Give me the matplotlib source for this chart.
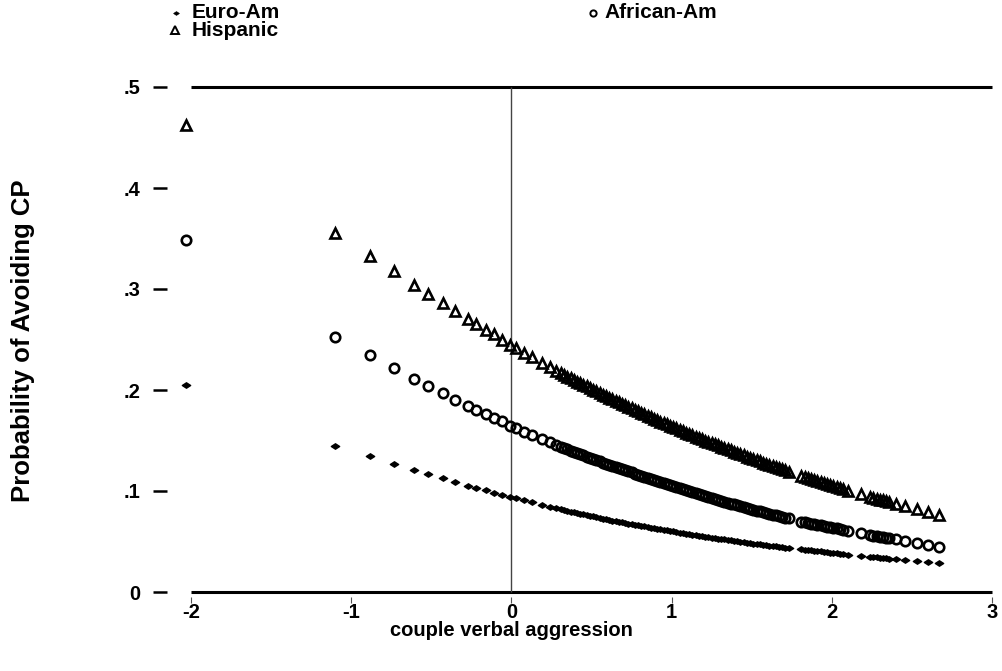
import matplotlib
matplotlib.use("Agg")
import matplotlib.pyplot as plt
from matplotlib.path import Path
from matplotlib.lines import Line2D

# ---------------- data ----------------
x_sparse = [-2.03, -1.10, -0.88, -0.73, -0.61, -0.52, -0.43, -0.35, -0.27, -0.22,
            -0.16, -0.11, -0.06, -0.01, 0.03, 0.08, 0.13, 0.19, 0.24, 0.28]
x_dense = [0.31, 0.33, 0.35, 0.37, 0.39, 0.41, 0.43, 0.45, 0.47, 0.49,
           0.51, 0.53, 0.55, 0.57, 0.59, 0.61, 0.63, 0.65, 0.67, 0.69,
           0.71, 0.73, 0.75, 0.77, 0.79, 0.81, 0.83, 0.85, 0.87, 0.89,
           0.91, 0.93, 0.95, 0.97, 0.99, 1.01, 1.03, 1.05, 1.07, 1.09,
           1.11, 1.13, 1.15, 1.17, 1.19, 1.21, 1.23, 1.25, 1.27, 1.29,
           1.31, 1.33, 1.35, 1.37, 1.39, 1.41, 1.43, 1.45, 1.47, 1.49,
           1.51, 1.53, 1.55, 1.57, 1.59, 1.61, 1.63, 1.65, 1.67, 1.69,
           1.71, 1.73]
x_right = [1.81, 1.83, 1.85, 1.87, 1.89, 1.91, 1.93, 1.95, 1.97, 1.99,
           2.01, 2.03, 2.05, 2.07, 2.10, 2.18, 2.24, 2.26, 2.28, 2.30,
           2.32, 2.34, 2.36, 2.40, 2.46, 2.53, 2.60, 2.67]
verbal_aggression = x_sparse + x_dense + x_right

hispanic = [
    # sparse
    0.462, 0.355, 0.333, 0.318, 0.304, 0.295, 0.286, 0.278, 0.270, 0.265,
    0.259, 0.255, 0.250, 0.2449, 0.2413, 0.2369, 0.2324, 0.2271, 0.2227, 0.2191,
    # dense
    0.2166, 0.2150, 0.2133, 0.2117, 0.2101, 0.2084, 0.2068, 0.2052, 0.2035, 0.2019,
    0.2003, 0.1986, 0.1970, 0.1954, 0.1937, 0.1922, 0.1907, 0.1892, 0.1877, 0.1862,
    0.1847, 0.1833, 0.1818, 0.1803, 0.1789, 0.1774, 0.1759, 0.1744, 0.1729, 0.1714,
    0.1700, 0.1687, 0.1673, 0.1660, 0.1646, 0.1633, 0.1619, 0.1606, 0.1593, 0.1579,
    0.1566, 0.1552, 0.1539, 0.1525, 0.1512, 0.1499, 0.1487, 0.1475, 0.1463, 0.1451,
    0.1438, 0.1426, 0.1414, 0.1402, 0.1390, 0.1378, 0.1366, 0.1353, 0.1341, 0.1329,
    0.1317, 0.1305, 0.1294, 0.1282, 0.1271, 0.1260, 0.1248, 0.1237, 0.1226, 0.1214,
    0.1203, 0.1192,
    # right
    0.1145, 0.1135, 0.1125, 0.1115, 0.1105, 0.1095, 0.1085, 0.1075, 0.1066, 0.1056,
    0.1046, 0.1037, 0.1027, 0.1018, 0.1004, 0.0968, 0.0941, 0.0932, 0.0924, 0.0915,
    0.0906, 0.0898, 0.0889, 0.0872, 0.0848, 0.0820, 0.0793, 0.0766]

african = [
    # sparse
    0.349, 0.252, 0.235, 0.222, 0.211, 0.204, 0.197, 0.190, 0.184, 0.180,
    0.176, 0.172, 0.169, 0.1648, 0.1621, 0.1588, 0.1555, 0.1515, 0.1482, 0.1455,
    # dense
    0.1436, 0.1424, 0.1412, 0.1400, 0.1388, 0.1376, 0.1364, 0.1353, 0.1341, 0.1329,
    0.1317, 0.1305, 0.1293, 0.1281, 0.1269, 0.1258, 0.1247, 0.1236, 0.1226, 0.1215,
    0.1204, 0.1194, 0.1184, 0.1173, 0.1163, 0.1152, 0.1141, 0.1131, 0.1120, 0.1109,
    0.1099, 0.1089, 0.1079, 0.1068, 0.1058, 0.1048, 0.1038, 0.1028, 0.1018, 0.1008,
    0.0998, 0.0987, 0.0977, 0.0967, 0.0957, 0.0948, 0.0939, 0.0930, 0.0921, 0.0912,
    0.0903, 0.0894, 0.0885, 0.0876, 0.0867, 0.0858, 0.0849, 0.0840, 0.0831, 0.0822,
    0.0813, 0.0805, 0.0798, 0.0790, 0.0782, 0.0774, 0.0767, 0.0759, 0.0751, 0.0743,
    0.0736, 0.0728,
    # right
    0.0695, 0.0689, 0.0683, 0.0677, 0.0671, 0.0665, 0.0659, 0.0653, 0.0647, 0.0641,
    0.0635, 0.0629, 0.0623, 0.0617, 0.0608, 0.0585, 0.0562, 0.0557, 0.0551, 0.0546,
    0.0541, 0.0535, 0.0530, 0.0520, 0.0504, 0.0485, 0.0467, 0.0450]

euro = [
    # sparse
    0.205, 0.145, 0.1346, 0.1269, 0.1208, 0.1166, 0.1124, 0.1087, 0.1052, 0.1031,
    0.1006, 0.0985, 0.0965, 0.0944, 0.0928, 0.0909, 0.0889, 0.0865, 0.0846, 0.0830,
    # dense
    0.0818, 0.0811, 0.0804, 0.0797, 0.0790, 0.0783, 0.0776, 0.0769, 0.0762, 0.0755,
    0.0748, 0.0741, 0.0734, 0.0727, 0.0720, 0.0713, 0.0707, 0.0701, 0.0695, 0.0690,
    0.0684, 0.0678, 0.0672, 0.0666, 0.0660, 0.0654, 0.0649, 0.0643, 0.0637, 0.0631,
    0.0625, 0.0620, 0.0615, 0.0610, 0.0605, 0.0600, 0.0594, 0.0589, 0.0584, 0.0579,
    0.0573, 0.0568, 0.0563, 0.0558, 0.0553, 0.0548, 0.0543, 0.0538, 0.0534, 0.0529,
    0.0525, 0.0520, 0.0516, 0.0511, 0.0507, 0.0502, 0.0497, 0.0493, 0.0488, 0.0484,
    0.0479, 0.0475, 0.0471, 0.0467, 0.0463, 0.0459, 0.0455, 0.0451, 0.0446, 0.0442,
    0.0438, 0.0434,
    # right
    0.0424, 0.0420, 0.0416, 0.0413, 0.0409, 0.0405, 0.0401, 0.0398, 0.0394, 0.0390,
    0.0387, 0.0383, 0.0379, 0.0376, 0.0371, 0.0358, 0.0348, 0.0345, 0.0342, 0.0339,
    0.0336, 0.0333, 0.0330, 0.0324, 0.0316, 0.0305, 0.0296, 0.0286]

series_labels = ["Euro-Am", "African-Am", "Hispanic"]
x_ticks = [-2, -1, 0, 1, 2, 3]
x_ticklabels = ["-2", "-1", "0", "1", "2", "3"]
y_ticks = [0, 0.1, 0.2, 0.3, 0.4, 0.5]
y_ticklabels = ["0", ".1", ".2", ".3", ".4", ".5"]
x_title = "couple verbal aggression"
y_title = "Probability of Avoiding CP"

# ---------------- figure ----------------
plt.rcParams["font.family"] = ["Liberation Sans", "DejaVu Sans"]
plt.rcParams["font.weight"] = "bold"

W, H = 1002, 671
fig = plt.figure(figsize=(W / 100, H / 100), dpi=100)

def fx(px):
    return px / W

def fy(py):
    return 1 - py / H

# axes box in pixels
ax_l, ax_r, ax_t, ax_b = 167, 998, 78, 597
ax = fig.add_axes([fx(ax_l), fy(ax_b), (ax_r - ax_l) / W, (ax_b - ax_t) / H])

# data -> pixel anchors: x=-2 at 191, x=3 at 992 ; y=0 at 592, y=.5 at 87
kx = (992 - 191) / 5.0
ky = (592 - 87) / 0.5
ax.set_xlim(-2 - (191 - ax_l) / kx, 3 + (ax_r - 992) / kx)
ax.set_ylim(-(ax_b - 592) / ky, 0.5 + (87 - ax_t) / ky)

for s in ax.spines.values():
    s.set_visible(False)

# frame lines at 0 and .5, reference line at x=0
ax.hlines([0, 0.5], -2, 3, colors="black", linewidth=2.2, clip_on=False, zorder=1)
ax.vlines(0, 0, 0.5, colors="#444444", linewidth=1.0, zorder=1)

small_diamond = Path([(-1, 0), (0, 0.65), (1, 0), (0, -0.65), (-1, 0)],
                     [Path.MOVETO, Path.LINETO, Path.LINETO, Path.LINETO, Path.CLOSEPOLY])

ax.plot(verbal_aggression, euro, linestyle="none", marker=small_diamond,
        markersize=6.0, color="black", markeredgewidth=1.0, clip_on=False, zorder=3)
ax.plot(verbal_aggression, african, linestyle="none", marker="o",
        markersize=6.8, markerfacecolor="none", markeredgecolor="black",
        markeredgewidth=1.9, clip_on=False, zorder=3)
ax.plot(verbal_aggression, hispanic, linestyle="none", marker="^",
        markersize=7.4, markerfacecolor="none", markeredgecolor="black",
        markeredgewidth=1.9, clip_on=False, zorder=3)

ax.set_xticks(x_ticks)
ax.set_xticklabels(x_ticklabels)
ax.set_yticks(y_ticks)
ax.set_yticklabels(y_ticklabels)
ax.tick_params(axis="x", direction="out", length=4, width=0.8, color="#555555",
               pad=0.5, labelsize=14.5)
ax.tick_params(axis="y", direction="out", length=10, width=1.8, color="black",
               pad=9, labelsize=14.5)
for t in ax.get_xticklabels() + ax.get_yticklabels():
    t.set_fontweight("bold")

# axis titles
fig.text(fx(511), fy(631), x_title, ha="center", va="center",
         fontsize=14.5, fontweight="bold")
fig.text(fx(23), fy(341), y_title, ha="center", va="center", rotation=90,
         fontsize=18.5, fontweight="bold")

# legend (Stata-style, top of figure)
leg_items = [
    (176, 13, small_diamond, 4.0, "black", 0.6, 192, series_labels[0]),
    (175, 30, "^", 5.5, "none", 1.4, 192, series_labels[2]),
    (593, 13, "o", 4.5, "none", 1.4, 604, series_labels[1]),
]
for mx, my, mk, ms, fc, mew, tx, lab in leg_items:
    fig.add_artist(Line2D([fx(mx)], [fy(my)], transform=fig.transFigure,
                          linestyle="none", marker=mk, markersize=ms,
                          markerfacecolor=fc, markeredgecolor="black",
                          markeredgewidth=mew))
    fig.text(fx(tx), fy(my), lab, ha="left", va="center",
             fontsize=15, fontweight="bold")

fig.savefig("out.png", dpi=100)
